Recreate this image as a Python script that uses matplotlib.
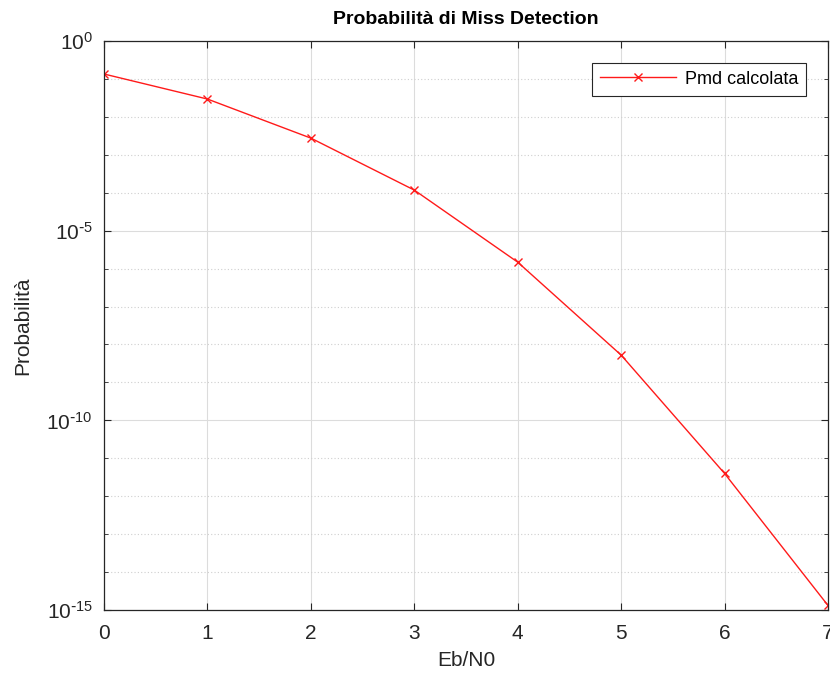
import numpy as np
import matplotlib
matplotlib.use('Agg')
import matplotlib.pyplot as plt
from matplotlib.ticker import FixedLocator, NullFormatter

plt.rcParams['font.family'] = ['Liberation Sans', 'DejaVu Sans']

# dati
ebn0 = [0, 1, 2, 3, 4, 5, 6, 7]
esponenti = [-0.87, -1.53, -2.56, -3.93, -5.83, -8.28, -11.40, -14.88]
pmd = [10.0 ** e for e in esponenti]

fig = plt.figure(figsize=(8.3, 6.8), dpi=100)
ax = fig.add_axes([0.1253, 0.1029, 0.8723, 0.8368])

ax.semilogy(ebn0, pmd, color='#ff1a1a', marker='x', markersize=6, linewidth=1,
            label='Pmd calcolata')

ax.set_xlim(0, 7)
ax.set_ylim(1e-15, 1)
ax.set_xticks(range(0, 8))
ax.yaxis.set_major_locator(FixedLocator([1e-15, 1e-10, 1e-5, 1]))
ax.yaxis.set_minor_locator(FixedLocator([10.0 ** k for k in range(-15, 1) if k % 5 != 0]))
ax.yaxis.set_minor_formatter(NullFormatter())
ax.set_yticklabels(['$\\mathregular{10^{\\text{-}15}}$', '$\\mathregular{10^{\\text{-}10}}$',
                    '$\\mathregular{10^{\\text{-}5}}$', '$\\mathregular{10^{0}}$'])

ax.grid(True, which='major', color='#dcdcdc', linewidth=0.8)
ax.grid(True, which='minor', axis='y', color='#cfcfcf', linestyle=(0, (1, 2)), linewidth=0.8)
ax.set_axisbelow(True)

ax.tick_params(which='both', direction='in', top=True, right=True, colors='#262626',
               labelsize=15)
ax.tick_params(axis='x', pad=10)
ax.tick_params(axis='y', pad=8)
ax.tick_params(which='major', length=5)
ax.tick_params(which='minor', length=3)
for s in ax.spines.values():
    s.set_color('#262626')
    s.set_linewidth(0.9)

ax.set_title('Probabilità di Miss Detection', fontsize=14, fontweight='bold', pad=12)
ax.set_xlabel('Eb/N0', fontsize=15, color='#262626', labelpad=6)
ax.set_ylabel('Probabilità', fontsize=15, color='#262626', labelpad=10)

leg = ax.legend(loc='upper right', fontsize=13, fancybox=False, edgecolor='#262626',
                framealpha=1, handlelength=4.2, handletextpad=0.5, borderaxespad=1.2,
                borderpad=0.45)
leg.get_frame().set_linewidth(0.8)

plt.savefig('out.png', dpi=100)
